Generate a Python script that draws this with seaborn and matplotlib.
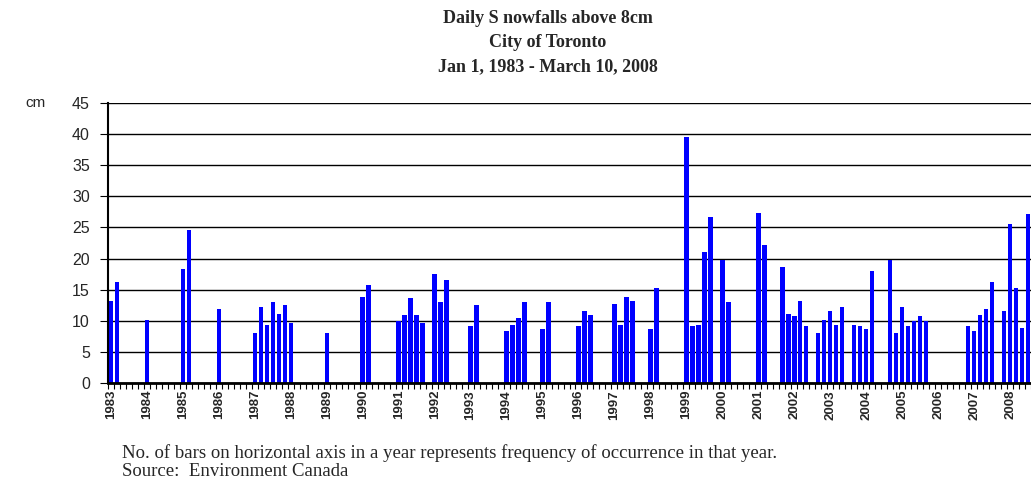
import numpy as np
import pandas as pd
import matplotlib
matplotlib.use('Agg')
import matplotlib.pyplot as plt
import seaborn as sns

# one slot per bar position on the category axis, 0 = no event in that slot
snow_cm = [
    13.2, 16.2, 0, 0, 0, 0,
    10.2, 0, 0, 0, 0, 0,
    18.3, 24.6, 0, 0, 0, 0,
    11.9, 0, 0, 0, 0, 0,
    8.1, 12.2, 9.4, 13.0, 11.1, 12.5,
    9.6, 0, 0, 0, 0, 0,
    8.1, 0, 0, 0, 0, 0,
    13.9, 15.7, 0, 0, 0, 0,
    9.9, 10.9, 13.7, 10.9, 9.7, 0,
    17.5, 13.0, 16.5, 0, 0, 0,
    9.2, 12.5, 0, 0, 0, 0,
    8.4, 9.4, 10.4, 13.0, 0, 0,
    8.6, 13.0, 0, 0, 0, 0,
    9.2, 11.5, 10.9, 0, 0, 0,
    12.7, 9.4, 13.9, 13.2, 0, 0,
    8.6, 15.2, 0, 0, 0, 0,
    39.5, 9.2, 9.4, 21.0, 26.6, 0,
    19.8, 13.0, 0, 0, 0, 0,
    27.4, 22.1, 0, 0, 18.7, 11.1,
    10.7, 13.2, 9.2, 0, 8.1, 10.2,
    11.5, 9.4, 12.2, 0, 9.4, 9.2,
    8.6, 18.0, 0, 0, 19.8, 8.1,
    12.2, 9.2, 9.9, 10.7, 9.9, 0,
    0, 0, 0, 0, 0, 9.2,
    8.4, 10.9, 11.9, 16.2, 0, 11.5,
    25.6, 15.2, 8.9, 27.1,
]
year_labels = [str(y) for y in range(1983, 2009)]
slots_per_label = 6
y_ticks = list(range(0, 50, 5))

title_lines = "Daily S nowfalls above 8cm\nCity of Toronto\nJan 1, 1983 - March 10, 2008"
note_lines = ("No. of bars on horizontal axis in a year represents frequency of occurrence in that year.\n"
              "Source:  Environment Canada")

sns.set_theme(style='white')
plt.rcParams['font.family'] = ['Liberation Sans', 'DejaVu Sans']

df = pd.DataFrame({'slot': np.arange(len(snow_cm)), 'cm': snow_cm})

fig = plt.figure(figsize=(10.31, 4.87), dpi=100)
ax = fig.add_axes([108 / 1031, 104 / 487, 923 / 1031, 280 / 487])

sns.barplot(data=df, x='slot', y='cm', color='#0000ff', saturation=1,
            width=0.75, linewidth=0, ax=ax)

ax.set_xlim(-0.5, len(snow_cm) - 0.5)
ax.set_ylim(0, 45)
ax.set_xlabel('')
ax.set_ylabel('')

# horizontal gridlines only
ax.set_yticks(y_ticks)
ax.yaxis.grid(True, color='black', linewidth=1.0)
ax.xaxis.grid(False)
ax.set_axisbelow(True)

label_pos = list(range(0, len(snow_cm), slots_per_label))
ax.set_xticks(label_pos)
ax.set_xticklabels(year_labels, rotation=90, fontsize=9.5, fontweight='bold')
ax.set_xticks(np.arange(-0.5, len(snow_cm), 1), minor=True)
ax.tick_params(axis='x', which='major', length=0, pad=5)
ax.tick_params(axis='x', which='minor', bottom=True, length=4, width=0.8,
               color='black', direction='out')
ax.tick_params(axis='y', left=True, length=6, width=0.8, color='black',
               labelsize=11.5, pad=7)

for side in ['top', 'right']:
    ax.spines[side].set_visible(False)
ax.spines['left'].set_color('black')
ax.spines['left'].set_linewidth(1.5)
ax.spines['bottom'].set_color('black')
ax.spines['bottom'].set_linewidth(2)

fig.text(25 / 1031, 1 - 103 / 487, 'cm', fontsize=11, va='center', ha='left')

fig.text(548 / 1031, 1 - 10 / 487, title_lines, ha='center', va='top',
         fontsize=13, fontweight='bold', family=['Liberation Serif'],
         linespacing=1.55)

fig.text(122 / 1031, 1 - 444 / 487, note_lines, ha='left', va='top',
         fontsize=13.5, family=['Liberation Serif'], linespacing=1.1)

fig.savefig('out.png', dpi=100)
